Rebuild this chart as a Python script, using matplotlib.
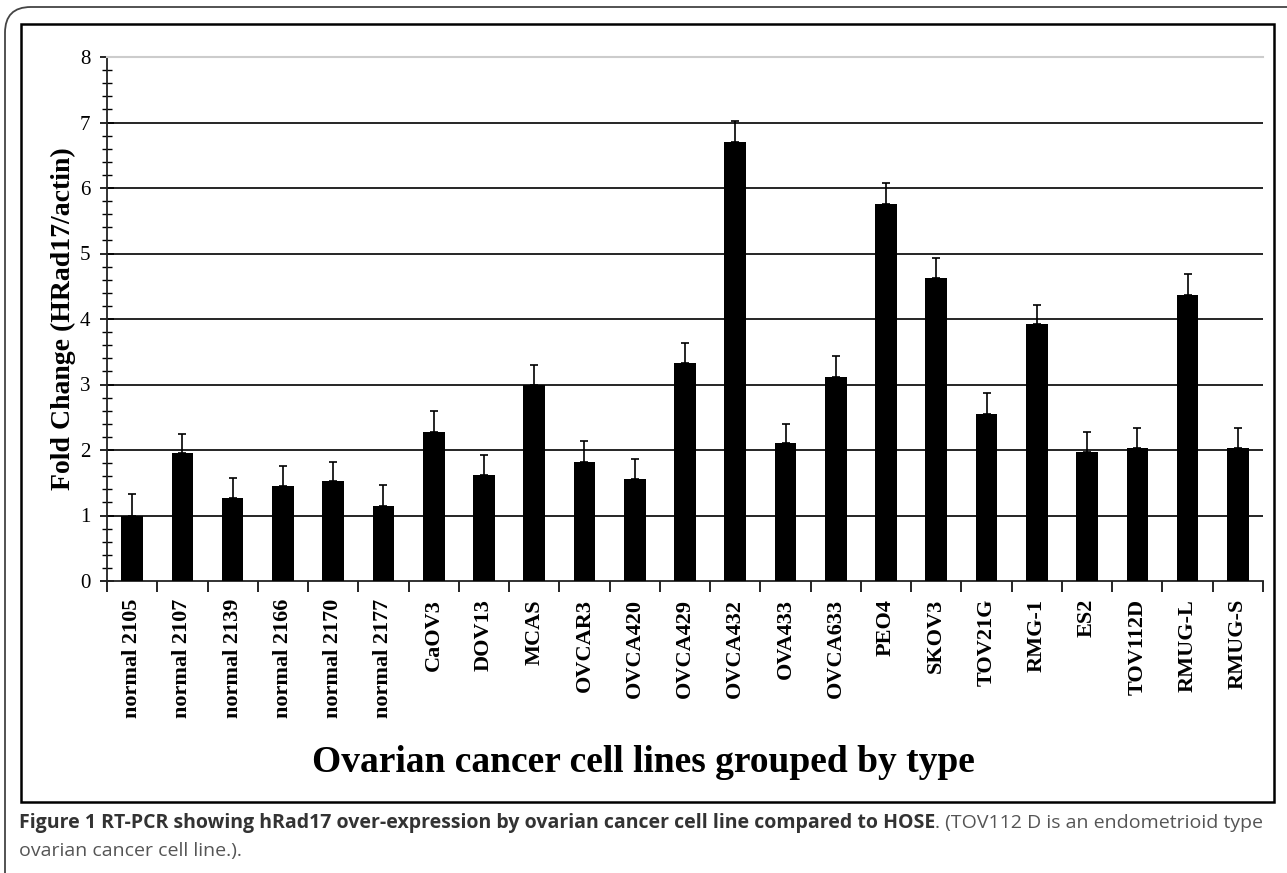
import matplotlib.pyplot as plt
from matplotlib.patches import FancyBboxPatch, Rectangle
from matplotlib.ticker import MultipleLocator, FixedLocator
import numpy as np

# cell lines, in the order shown
cell_lines = ['normal 2105', 'normal 2107', 'normal 2139', 'normal 2166',
              'normal 2170', 'normal 2177', 'CaOV3', 'DOV13', 'MCAS', 'OVCAR3',
              'OVCA420', 'OVCA429', 'OVCA432', 'OVA433', 'OVCA633', 'PEO4',
              'SKOV3', 'TOV21G', 'RMG-1', 'ES2', 'TOV112D', 'RMUG-L', 'RMUG-S']
fold_change = [1.00, 1.95, 1.27, 1.45, 1.52, 1.15, 2.28, 1.62, 3.00, 1.82,
               1.55, 3.33, 6.70, 2.10, 3.12, 5.75, 4.62, 2.55, 3.92, 1.97,
               2.03, 4.37, 2.03]
err_top = [1.33, 2.25, 1.57, 1.76, 1.82, 1.47, 2.60, 1.92, 3.30, 2.13,
           1.86, 3.64, 7.02, 2.40, 3.43, 6.07, 4.93, 2.87, 4.22, 2.28,
           2.34, 4.69, 2.34]

W, H = 1287, 873
fig = plt.figure(figsize=(W / 100, H / 100), dpi=100)

# frames: outer rounded panel + inner chart box
outer = FancyBboxPatch((5 / W, 1 - 1000 / H), 1400 / W, 993 / H,
                       boxstyle="round,pad=0,rounding_size=0.02",
                       transform=fig.transFigure, fill=False,
                       edgecolor='#444444', lw=1.3, mutation_aspect=W / H)
fig.patches.append(outer)
inner = Rectangle((21 / W, 1 - 802 / H), (1274 - 21) / W, (802 - 24) / H,
                  transform=fig.transFigure, fill=False, edgecolor='black', lw=1.8)
fig.patches.append(inner)

ax = fig.add_axes([107 / W, 1 - 581 / H, (1263 - 107) / W, (581 - 57) / H])
x = np.arange(len(cell_lines))
lower = np.zeros(len(x))
upper = np.array(err_top) - np.array(fold_change)
ax.bar(x, fold_change, width=0.43, color='black', zorder=3)
ax.errorbar(x, fold_change, yerr=[lower, upper], fmt='none', ecolor='black',
            elinewidth=1.2, capsize=3, capthick=1.2, zorder=4)

ax.set_xlim(-0.5, len(x) - 0.5)
ax.set_ylim(0, 8)
ax.set_axisbelow(True)
for v in range(1, 8):
    ax.axhline(v, color='black', lw=1.2, zorder=1)

ax.spines['right'].set_visible(False)
ax.spines['top'].set_color('#cccccc')
ax.spines['top'].set_linewidth(1.5)
for s in ['left', 'bottom']:
    ax.spines[s].set_linewidth(1.3)
    ax.spines[s].set_color('#222222')

ax.yaxis.set_major_locator(MultipleLocator(1))
ax.yaxis.set_minor_locator(MultipleLocator(0.2))
ax.tick_params(axis='y', which='major', direction='inout', length=10, width=1.2,
               labelsize=15, pad=7)
ax.tick_params(axis='y', which='minor', direction='inout', length=7, width=1.0)

ax.set_xticks(x)
ax.set_xticklabels(cell_lines, rotation=90, fontweight='bold', fontsize=16,
                   family='Liberation Serif')
ax.xaxis.set_minor_locator(FixedLocator(np.arange(-0.5, len(x), 1)))
ax.tick_params(axis='x', which='major', length=0, pad=13)
ax.tick_params(axis='x', which='minor', direction='out', length=8, width=1.2)
for lab in ax.get_yticklabels():
    lab.set_family('Liberation Serif')

ax.set_ylabel('Fold Change (HRad17/actin)', family='Liberation Serif',
              fontweight='bold', fontsize=20, labelpad=3)
fig.text(643 / W, 1 - 772 / H, 'Ovarian cancer cell lines grouped by type',
         ha='center', va='baseline', family='Liberation Serif',
         fontweight='bold', fontsize=27)

# caption
bold_part = 'Figure 1 RT-PCR showing hRad17 over-expression by ovarian cancer cell line compared to HOSE'
rest_part = '. (TOV112 D is an endometrioid type'
t1 = fig.text(19 / W, 1 - 823 / H, bold_part, ha='left', va='center',
              family='Open Sans', fontweight='bold', fontsize=14, color='#333333')
fig.canvas.draw()
bb = t1.get_window_extent()
fig.text(bb.x1 / W, 1 - 823 / H, rest_part, ha='left', va='center',
         family='Open Sans', fontsize=14, color='#555555')
fig.text(19 / W, 1 - 851 / H, 'ovarian cancer cell line.).', ha='left',
         va='center', family='Open Sans', fontsize=14, color='#555555')

fig.savefig('out.png', dpi=100)
